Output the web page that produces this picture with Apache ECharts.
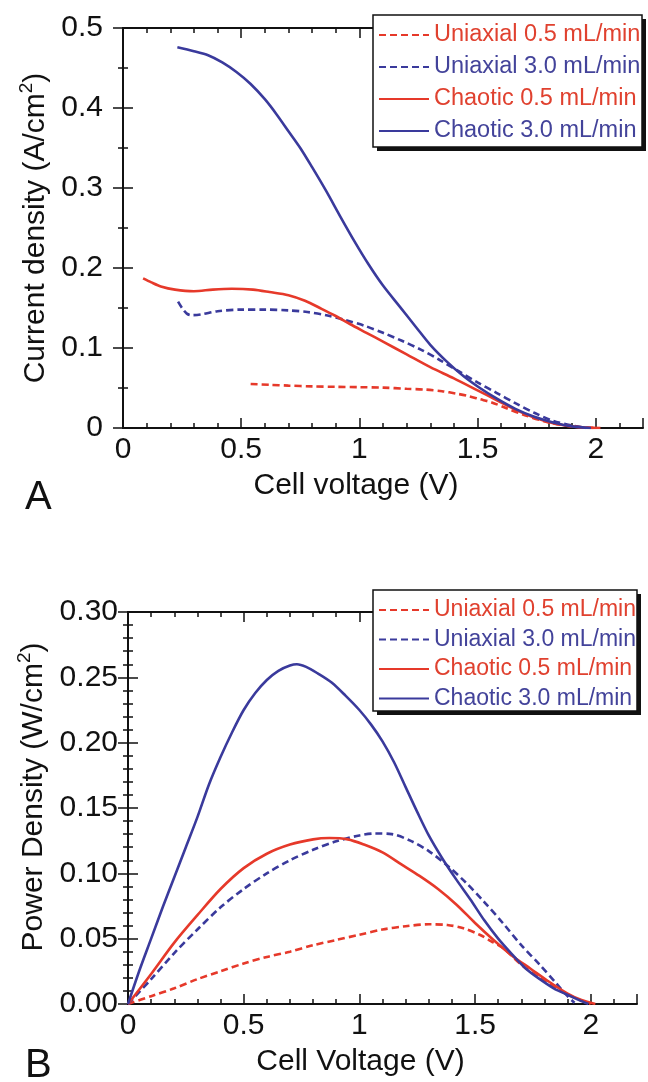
<!DOCTYPE html>
<html>
<head>
<meta charset="utf-8">
<script src="https://cdn.jsdelivr.net/npm/echarts@6/dist/echarts.min.js"></script>
<style>html,body{margin:0;padding:0;background:#fff}#c{width:648px;height:1082px}</style>
</head>
<body>
<div id="c"></div>
<script>
// ---------- data ----------
const seriesNames = ['Uniaxial 0.5 mL/min', 'Uniaxial 3.0 mL/min', 'Chaotic 0.5 mL/min', 'Chaotic 3.0 mL/min'];
const lineColors = ['#e6392a', '#3a3a9c', '#e6392a', '#3a3a9c'];
const textColors = ['#e0412f', '#43439a', '#e0412f', '#43439a'];

// Panel A: [cell voltage (V), current density (A/cm2)]
const curUniaxial05 = [[0.54,0.055],[0.62,0.054],[0.70,0.053],[0.80,0.052],[0.90,0.0515],[1.00,0.051],[1.10,0.0505],[1.20,0.049],[1.28,0.048],[1.35,0.046],[1.41,0.043],[1.46,0.040],[1.51,0.036],[1.56,0.032],[1.62,0.025],[1.70,0.016],[1.80,0.007],[1.90,0.002],[2.00,0]];
const curUniaxial30 = [[0.233,0.158],[0.25,0.150],[0.27,0.143],[0.29,0.141],[0.33,0.142],[0.40,0.146],[0.50,0.148],[0.60,0.148],[0.70,0.147],[0.78,0.145],[0.86,0.141],[0.94,0.135],[1.02,0.128],[1.10,0.119],[1.18,0.109],[1.26,0.098],[1.34,0.085],[1.42,0.071],[1.50,0.057],[1.58,0.044],[1.66,0.031],[1.74,0.019],[1.82,0.009],[1.90,0.003],[1.96,0]];
const curChaotic05 = [[0.085,0.187],[0.12,0.182],[0.16,0.177],[0.22,0.173],[0.30,0.171],[0.38,0.173],[0.46,0.174],[0.55,0.173],[0.62,0.170],[0.70,0.166],[0.77,0.159],[0.84,0.149],[0.90,0.140],[0.96,0.130],[1.03,0.119],[1.10,0.108],[1.20,0.092],[1.30,0.076],[1.40,0.062],[1.50,0.047],[1.58,0.035],[1.66,0.023],[1.74,0.013],[1.82,0.006],[1.90,0.002],[1.96,0.0005],[2.02,0]];
const curChaotic30 = [[0.23,0.476],[0.30,0.471],[0.36,0.466],[0.42,0.457],[0.48,0.445],[0.54,0.430],[0.60,0.411],[0.65,0.392],[0.70,0.371],[0.75,0.350],[0.80,0.326],[0.86,0.296],[0.92,0.264],[0.98,0.233],[1.04,0.204],[1.10,0.178],[1.17,0.152],[1.24,0.126],[1.30,0.104],[1.37,0.083],[1.44,0.065],[1.51,0.050],[1.58,0.037],[1.66,0.024],[1.74,0.014],[1.82,0.007],[1.90,0.002],[1.98,0]];

// Panel B: [cell voltage (V), power density (W/cm2)]
const powUniaxial05 = [[0,0],[0.1,0.006],[0.2,0.012],[0.3,0.019],[0.4,0.025],[0.5,0.031],[0.6,0.036],[0.7,0.040],[0.8,0.045],[0.9,0.049],[1.0,0.053],[1.1,0.057],[1.2,0.0595],[1.3,0.061],[1.38,0.0605],[1.45,0.058],[1.52,0.053],[1.57,0.048],[1.62,0.043],[1.70,0.030],[1.78,0.020],[1.86,0.011],[1.94,0.004],[2.0,0]];
const powUniaxial30 = [[0,0],[0.1,0.019],[0.2,0.039],[0.3,0.057],[0.4,0.074],[0.5,0.088],[0.6,0.100],[0.7,0.110],[0.8,0.118],[0.9,0.1245],[1.0,0.129],[1.07,0.1305],[1.14,0.130],[1.22,0.125],[1.30,0.117],[1.38,0.106],[1.46,0.093],[1.54,0.078],[1.62,0.062],[1.70,0.045],[1.78,0.030],[1.85,0.016],[1.90,0.006],[1.93,0.001]];
const powChaotic05 = [[0,0],[0.1,0.023],[0.2,0.047],[0.3,0.068],[0.4,0.088],[0.5,0.104],[0.6,0.115],[0.7,0.122],[0.8,0.126],[0.87,0.127],[0.95,0.126],[1.02,0.122],[1.10,0.116],[1.18,0.107],[1.26,0.098],[1.34,0.088],[1.42,0.076],[1.50,0.062],[1.58,0.049],[1.66,0.037],[1.74,0.027],[1.82,0.017],[1.90,0.008],[1.96,0.003],[2.02,0]];
const powChaotic30 = [[0,0],[0.05,0.026],[0.1,0.050],[0.15,0.074],[0.2,0.097],[0.25,0.120],[0.3,0.143],[0.35,0.168],[0.4,0.189],[0.45,0.208],[0.5,0.225],[0.55,0.238],[0.6,0.248],[0.65,0.255],[0.7,0.259],[0.73,0.260],[0.77,0.258],[0.82,0.253],[0.88,0.246],[0.94,0.236],[1.0,0.225],[1.05,0.214],[1.1,0.201],[1.15,0.185],[1.2,0.166],[1.25,0.147],[1.3,0.129],[1.36,0.111],[1.42,0.095],[1.48,0.080],[1.54,0.064],[1.6,0.050],[1.66,0.038],[1.72,0.027],[1.78,0.019],[1.84,0.012],[1.9,0.007],[1.95,0.003],[1.99,0]];

const xTickLabels = ['0', '0.5', '1', '1.5', '2'];
const panelLetters = ['A', 'B'];

// ---------- styles ----------
const F = "'Liberation Sans', Arial, Helvetica, sans-serif";
const INK = '#111';
const dash = [7, 4];
const isDash = [true, true, false, false];

function xAxesFor(g, name, padRight) {
  const base = {gridIndex: g, type: 'value', min: 0, max: 2.2, splitLine: {show: false}};
  const tick = (len) => ({show: true, inside: true, length: len, lineStyle: {color: INK, width: 1.5}});
  return [
    Object.assign({}, base, {
      position: 'bottom', interval: 0.1,
      axisLine: {show: true, lineStyle: {color: INK, width: 2}},
      axisTick: tick(5),
      axisLabel: {show: true, fontSize: 30, color: INK, fontFamily: F, margin: 7,
        formatter: v => { const k = Math.round(v * 2); return Math.abs(v * 2 - k) < 1e-6 && k <= 4 ? xTickLabels[k] : ''; }},
      name: name, nameLocation: 'middle', nameGap: 43,
      nameTextStyle: {fontSize: 30, color: INK, fontFamily: F, padding: [0, padRight, 0, 0]}
    }),
    Object.assign({}, base, {position: 'bottom', interval: 0.5, axisLine: {show: false}, axisTick: tick(10), axisLabel: {show: false}}),
    Object.assign({}, base, {position: 'top', interval: 0.1, axisLine: {show: true, lineStyle: {color: INK, width: 2}}, axisTick: tick(5), axisLabel: {show: false}}),
    Object.assign({}, base, {position: 'top', interval: 0.5, axisLine: {show: false}, axisTick: tick(10), axisLabel: {show: false}})
  ];
}

function yAxesFor(g, max, interval, minorSplit, fmt, nameRich, labelMargin, nameGap, padLeft) {
  const base = {gridIndex: g, type: 'value', min: 0, max: max, interval: interval,
    splitLine: {show: false}, minorSplitLine: {show: false},
    axisLine: {show: true, lineStyle: {color: INK, width: 2}},
    axisTick: {show: true, inside: true, length: 10, lineStyle: {color: INK, width: 1.5}},
    minorTick: {show: true, splitNumber: minorSplit, length: 5, lineStyle: {color: INK, width: 1.5}}};
  return [
    Object.assign({}, base, {
      position: 'left',
      axisLabel: {show: true, fontSize: 30, color: INK, fontFamily: F, margin: labelMargin, formatter: fmt},
      name: nameRich, nameLocation: 'middle', nameGap: nameGap,
      nameTextStyle: {color: INK, fontFamily: F, padding: [0, 0, 0, padLeft],
        rich: {a: {fontSize: 30, fontFamily: F, color: INK, lineHeight: 36},
               s: {fontSize: 19, fontFamily: F, color: INK, lineHeight: 19, verticalAlign: 'top'}}}
    }),
    Object.assign({}, base, {position: 'right', axisLabel: {show: false}})
  ];
}

function legendFor(top, gap, fs) {
  return {
    orient: 'vertical', left: 373, top: top, z: 20,
    padding: [8, 5, 6, 5], itemGap: gap, itemWidth: 50, itemHeight: 14,
    backgroundColor: 'transparent', borderWidth: 0,
    selectedMode: false,
    itemStyle: {opacity: 0, borderWidth: 0},
    textStyle: {fontSize: fs, fontFamily: F, lineHeight: 24},
    data: seriesNames.map((n, i) => ({name: n, textStyle: {color: textColors[i], fontSize: fs, fontFamily: F}}))
  };
}

// legend frame: white box with thin border and a solid offset shadow
function legendFrame(x, y, w, h) {
  return [
    {type: 'rect', z: 15, silent: true, shape: {x: x + 4, y: y + 4, width: w, height: h}, style: {fill: INK}},
    {type: 'rect', z: 16, silent: true, shape: {x: x, y: y, width: w, height: h}, style: {fill: '#ffffff', stroke: INK, lineWidth: 1.5}}
  ];
}

function seriesFor(g, datasets) {
  return datasets.map((d, i) => ({
    name: seriesNames[i], type: 'line', xAxisIndex: g * 4, yAxisIndex: g * 2,
    data: d, showSymbol: false, symbol: 'none', smooth: 0.3, z: 3 + i,
    lineStyle: {color: lineColors[i], width: 2.6, type: isDash[i] ? dash : 'solid'},
    itemStyle: {color: lineColors[i]},
    emphasis: {disabled: true}
  }));
}

const option = {
  animation: false,
  backgroundColor: '#ffffff',
  grid: [
    {left: 123, top: 28, width: 520, height: 400},
    {left: 128, top: 612, width: 509, height: 392}
  ],
  xAxis: [].concat(xAxesFor(0, 'Cell voltage (V)', 54), xAxesFor(1, 'Cell Voltage (V)', 44)),
  yAxis: [].concat(
    yAxesFor(0, 0.5, 0.1, 2, v => String(Math.round(v * 10) / 10), '{a|Current density (A/cm}{s|2}{a|)}', 20, 68, 0),
    yAxesFor(1, 0.30, 0.05, 5, v => v.toFixed(2), '{a|Power Density (W/cm}{s|2}{a|)}', 10, 76, 22)
  ),
  legend: [legendFor(15, 8, 23.5), legendFor(590, 5.5, 23)],
  graphic: [].concat(
    legendFrame(373, 15, 269, 132),
    legendFrame(373, 590, 264, 121),
    [
      {type: 'text', left: 25, top: 478, style: {text: panelLetters[0], fontSize: 40, fill: INK, fontFamily: F}},
      {type: 'text', left: 25, top: 1046, style: {text: panelLetters[1], fontSize: 40, fill: INK, fontFamily: F}}
    ]
  ),
  series: [].concat(
    seriesFor(0, [curUniaxial05, curUniaxial30, curChaotic05, curChaotic30]),
    seriesFor(1, [powUniaxial05, powUniaxial30, powChaotic05, powChaotic30])
  )
};

const chart = echarts.init(document.getElementById('c'), null, {renderer: 'canvas'});
chart.setOption(option);
</script>
</body>
</html>
